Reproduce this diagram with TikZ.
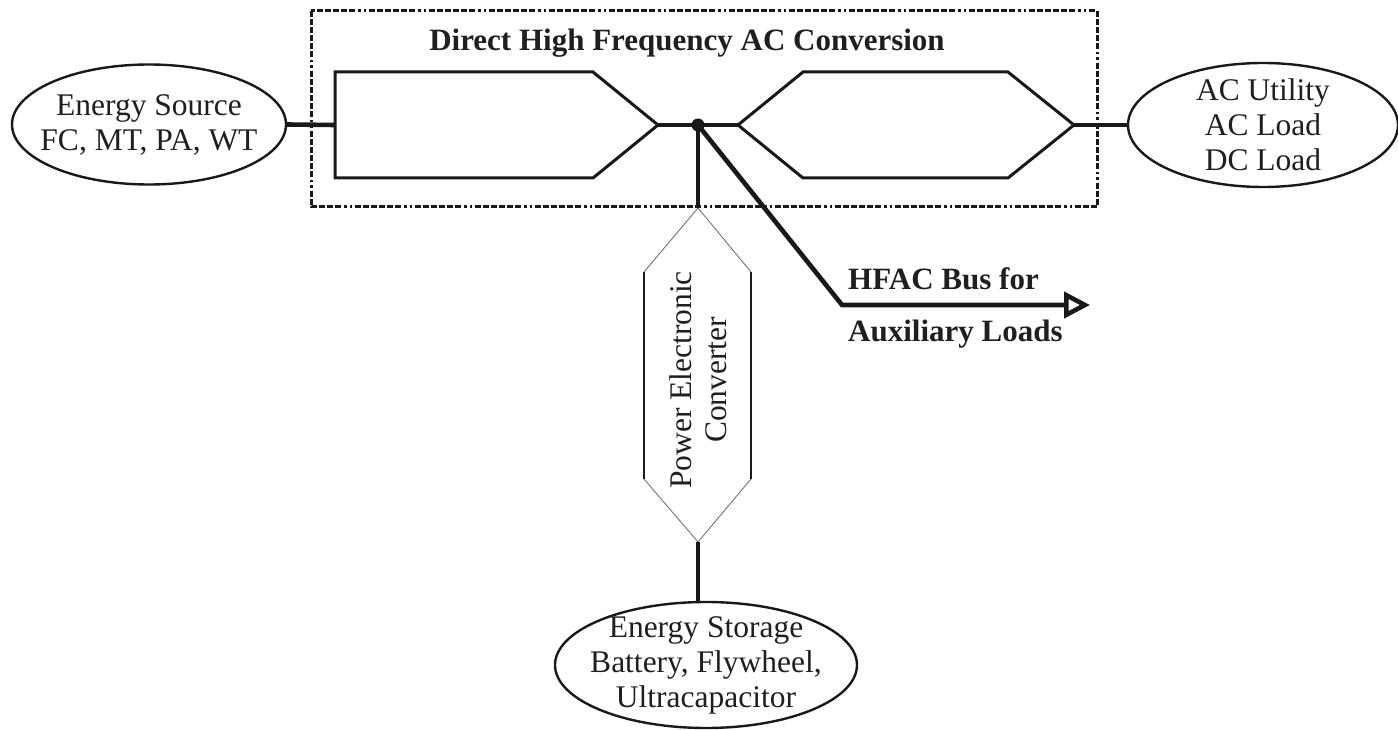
\documentclass[tikz,border=0pt]{standalone}
\usepackage{fontspec}
\setmainfont{Liberation Serif}
\usetikzlibrary{shapes.geometric,arrows.meta}
\begin{document}
\begin{tikzpicture}[x=1pt,y=-1pt,
  txt/.style={font=\fontsize{31.5}{35}\selectfont, align=center, inner sep=0pt, text=black!88},
  btxt/.style={font=\fontsize{31}{35}\selectfont\bfseries, inner sep=0pt, text=black!88},
  oval/.style={ellipse, draw=black!90, line width=2.4pt, inner sep=0pt},
  blockline/.style={line width=3pt, line join=miter, draw=black!90},
  wire/.style={line width=4.6pt, draw=black!90},
  boxdash/.style={line width=3pt, draw=black!90, dash pattern=on 6pt off 2pt on 6pt off 2pt on 6pt off 2pt on 6pt off 2pt on 6pt off 2pt on 6pt off 3pt on 2.5pt off 3pt on 2.5pt off 3pt},
]
\useasboundingbox (0,0) rectangle (1398,730);

% dashed enclosure
\draw[boxdash] (311,11) rectangle (1097,207);
\node[btxt, anchor=base] (title) at (687,51) {Direct High Frequency AC Conversion};

% terminal ellipses
\node[oval, minimum width=274pt, minimum height=120pt] (src) at (149,124.5) {};
\node[txt] (srcT) at (src) {Energy Source\\FC, MT, PA, WT};
\node[oval, minimum width=270pt, minimum height=124pt] (load) at (1263,125) {};
\node[txt] (loadT) at (load) {AC Utility\\AC Load\\DC Load};
\node[oval, minimum width=302pt, minimum height=126pt] (stor) at (706,665) {};
\node[txt] (storT) at (stor) {Energy Storage\\Battery, Flywheel,\\Ultracapacitor};

% conversion blocks
\coordinate (b1w) at (335,125);
\coordinate (b1e) at (658,125);
\draw[blockline] (335,72) -- (593,72) -- (b1e) -- (593,178) -- (335,178) -- cycle;
\coordinate (b2w) at (738,125);
\coordinate (b2e) at (1074,125);
\draw[blockline] (b2w) -- (803,72) -- (1008,72) -- (b2e) -- (1008,178) -- (803,178) -- cycle;

% power electronic converter
\coordinate (pt) at (698,208);
\coordinate (pb) at (698,542);
\draw[line width=0.9pt, draw=black!55] (644,272) -- (pt) -- (751,272);
\draw[line width=0.9pt, draw=black!55] (644,479) -- (pb) -- (751,479);
\draw[line width=2pt, draw=black!90] (644,272) -- (644,479) (751,272) -- (751,479);
\node[txt, rotate=90] (pec) at (698,380) {Power Electronic\\Converter};

% wires
\coordinate (j) at (698,125);
\draw[wire] (src.east) -- (b1w);
\draw[wire] (b1e) -- (b2w);
\draw[wire] (b2e) -- (load.west);
\draw[wire] (j) -- (pt);
\draw[wire] (pb) -- (pb |- stor.north);
\coordinate (bend) at (842,305);
\coordinate (aux) at (1090,305);
\draw[wire, line join=miter, -{Triangle[open, length=26pt, width=26pt]}] (j) -- (bend) -- (aux);
\fill[black!90] (j) circle (6.5);

\node[btxt, anchor=base west] (hfac1) at (848,289) {HFAC Bus for};
\node[btxt, anchor=base west] (hfac2) at (848,341) {Auxiliary Loads};
\end{tikzpicture}
\end{document}
